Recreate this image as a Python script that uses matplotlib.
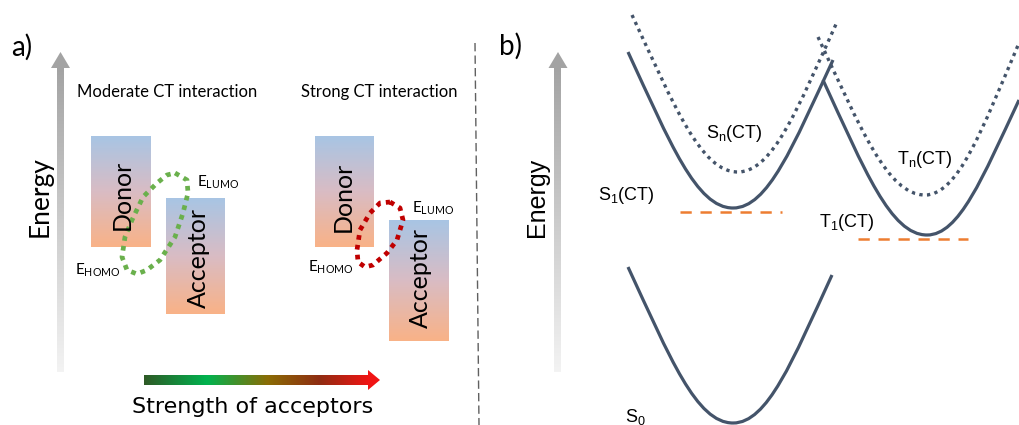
import numpy as np
import matplotlib
matplotlib.use('Agg')
import matplotlib.pyplot as plt
from matplotlib.path import Path
from matplotlib.patches import PathPatch, Polygon
from matplotlib.colors import LinearSegmentedColormap

# ---- panel a data (pixel coordinates, y down) ----
box_names = ['Donor', 'Acceptor', 'Donor', 'Acceptor']
box_left = [91, 166, 315, 389]
box_top = [137, 198, 137, 220]
box_right = [151, 225, 374, 449]
box_bottom = [247, 314, 247, 341]
box_label_x = [122, 198, 343, 420]
box_label_y = [195, 258, 197, 278]

green_loop_x = [175, 187, 188, 183, 175, 160, 147, 137, 127, 122, 125, 132, 143, 157, 167, 175]
green_loop_y = [173, 180, 193, 213, 237, 260, 270, 274, 270, 257, 237, 220, 197, 183, 175, 173]
red_loop_x = [390, 400, 403, 397, 387, 373, 365, 358, 357, 360, 370, 380, 390]
red_loop_y = [202, 208, 220, 240, 253, 265, 267, 262, 250, 230, 213, 203, 202]

level_labels = ['LUMO', 'HOMO', 'LUMO', 'HOMO']
level_x = [197, 75, 412, 308]
level_y = [182, 270, 208, 267]

titles_a = ['Moderate CT interaction', 'Strong CT interaction']
titles_a_x = [167, 379]

# ---- panel b data: left end, minimum, right end of each curve ----
curve_labels = ['$\\mathregular{S_1}$(CT)', '$\\mathregular{S_n}$(CT)',
                '$\\mathregular{T_1}$(CT)', '$\\mathregular{T_n}$(CT)', '$\\mathregular{S_0}$']
curve_left = [(628, 52), (632, 15), (823, 80), (818, 37), (628, 267)]
curve_min = [(733, 208), (738, 172), (927, 235), (925, 195), (733, 423)]
curve_right = [(833, 60), (837, 22), (1019, 100), (1019, 43), (832, 275)]
curve_dotted = [False, True, False, True, False]
label_x = [626, 734, 847, 925, 635]
label_y = [195, 134, 222, 160, 417]

level_lines_x0 = [680, 858]
level_lines_x1 = [782, 968]
level_lines_y = [212, 239]

slate = '#44546a'

plt.rcParams['font.family'] = ['Lato', 'DejaVu Sans']

fig = plt.figure(figsize=(10.19, 4.25), dpi=100)
ax = fig.add_axes([0, 0, 1, 1])
ax.axis('off')

# donor / acceptor boxes with blue -> orange gradient
grad_v = np.linspace(0, 1, 256).reshape(-1, 1)
box_cmap = LinearSegmentedColormap.from_list('box', ['#a8c5e4', '#d9bcc4', '#f9b287'])
for i in range(len(box_names)):
    ax.imshow(grad_v, cmap=box_cmap, aspect='auto', origin='upper',
              extent=(box_left[i], box_right[i], box_bottom[i], box_top[i]))
    ax.text(box_label_x[i], box_label_y[i], box_names[i], rotation=90,
            ha='center', va='center', fontsize=18)

ax.plot(green_loop_x, green_loop_y, color='#6ab04c', lw=3.4,
        linestyle=(0, (1, 1.1)), solid_capstyle='butt')
ax.plot(red_loop_x, red_loop_y, color='#c00000', lw=3.4,
        linestyle=(0, (1, 1.1)), solid_capstyle='butt')

for i in range(len(level_labels)):
    ax.text(level_x[i], level_y[i], '$\\mathregular{E_{%s}}$' % level_labels[i],
            ha='left', va='center', fontsize=11)

for t, x in zip(titles_a, titles_a_x):
    ax.text(x, 92, t, ha='center', va='center', fontsize=12)

# energy arrows (grey gradient)
arrow_cmap = LinearSegmentedColormap.from_list('arr', ['#a3a3a3', '#f3f3f3'])
for cx in [60.5, 558]:
    ax.imshow(grad_v, cmap=arrow_cmap, aspect='auto', origin='upper',
              extent=(cx - 3.5, cx + 3.5, 372, 67))
    ax.add_patch(Polygon([(cx - 9.5, 68), (cx + 9.5, 68), (cx, 52)],
                         closed=True, color='#a3a3a3', lw=0))
ax.text(40, 197, 'Energy', rotation=90, ha='center', va='center', fontsize=19)
ax.text(537, 197, 'Energy', rotation=90, ha='center', va='center', fontsize=18,
        family='Liberation Sans')

# acceptor strength arrow
grad_h = np.linspace(0, 1, 256).reshape(1, -1)
strength_cmap = LinearSegmentedColormap.from_list(
    'strength', [(0, '#2f5a26'), (0.28, '#00b34f'), (0.55, '#8a6c05'),
                 (0.78, '#8f2d12'), (1, '#f01414')])
ax.imshow(grad_h, cmap=strength_cmap, aspect='auto',
          extent=(144, 369, 385, 375))
ax.add_patch(Polygon([(368, 370), (368, 390), (380, 380)], closed=True,
                     color='#f01414', lw=0))
ax.text(253, 407, 'Strength of acceptors', ha='center', va='center',
        fontsize=16, family='DejaVu Sans')

ax.text(22, 47, 'a)', ha='center', va='center', fontsize=20)
ax.text(511, 46, 'b)', ha='center', va='center', fontsize=20)

# separator
ax.plot([475, 479], [43, 425], color='#606060', lw=1, linestyle=(0, (6, 3)))

# potential energy curves
for i in range(len(curve_left)):
    L, V, R = curve_left[i], curve_min[i], curve_right[i]
    dxl, dyl = L[0] - V[0], L[1] - V[1]
    dxr, dyr = R[0] - V[0], R[1] - V[1]
    verts = [L,
             (V[0] + 0.6 * dxl, V[1] + 0.42 * dyl),
             (V[0] + 0.35 * dxl, V[1]),
             V,
             (V[0] + 0.35 * dxr, V[1]),
             (V[0] + 0.6 * dxr, V[1] + 0.42 * dyr),
             R]
    codes = [Path.MOVETO] + [Path.CURVE4] * 6
    if curve_dotted[i]:
        patch = PathPatch(Path(verts, codes), fill=False, edgecolor=slate,
                          lw=2.4, linestyle=(0, (1, 1.3)))
    else:
        patch = PathPatch(Path(verts, codes), fill=False, edgecolor=slate,
                          lw=2.3, capstyle='butt')
    ax.add_patch(patch)
    ax.text(label_x[i], label_y[i], curve_labels[i], ha='center', va='center',
            fontsize=13, family='Liberation Sans')

for x0, x1, y in zip(level_lines_x0, level_lines_x1, level_lines_y):
    ax.plot([x0, x1], [y, y], color='#ed7d31', lw=1.8, linestyle=(0, (4.5, 3.5)))

ax.set_xlim(0, 1019)
ax.set_ylim(425, 0)
fig.savefig('out.png', dpi=100)
